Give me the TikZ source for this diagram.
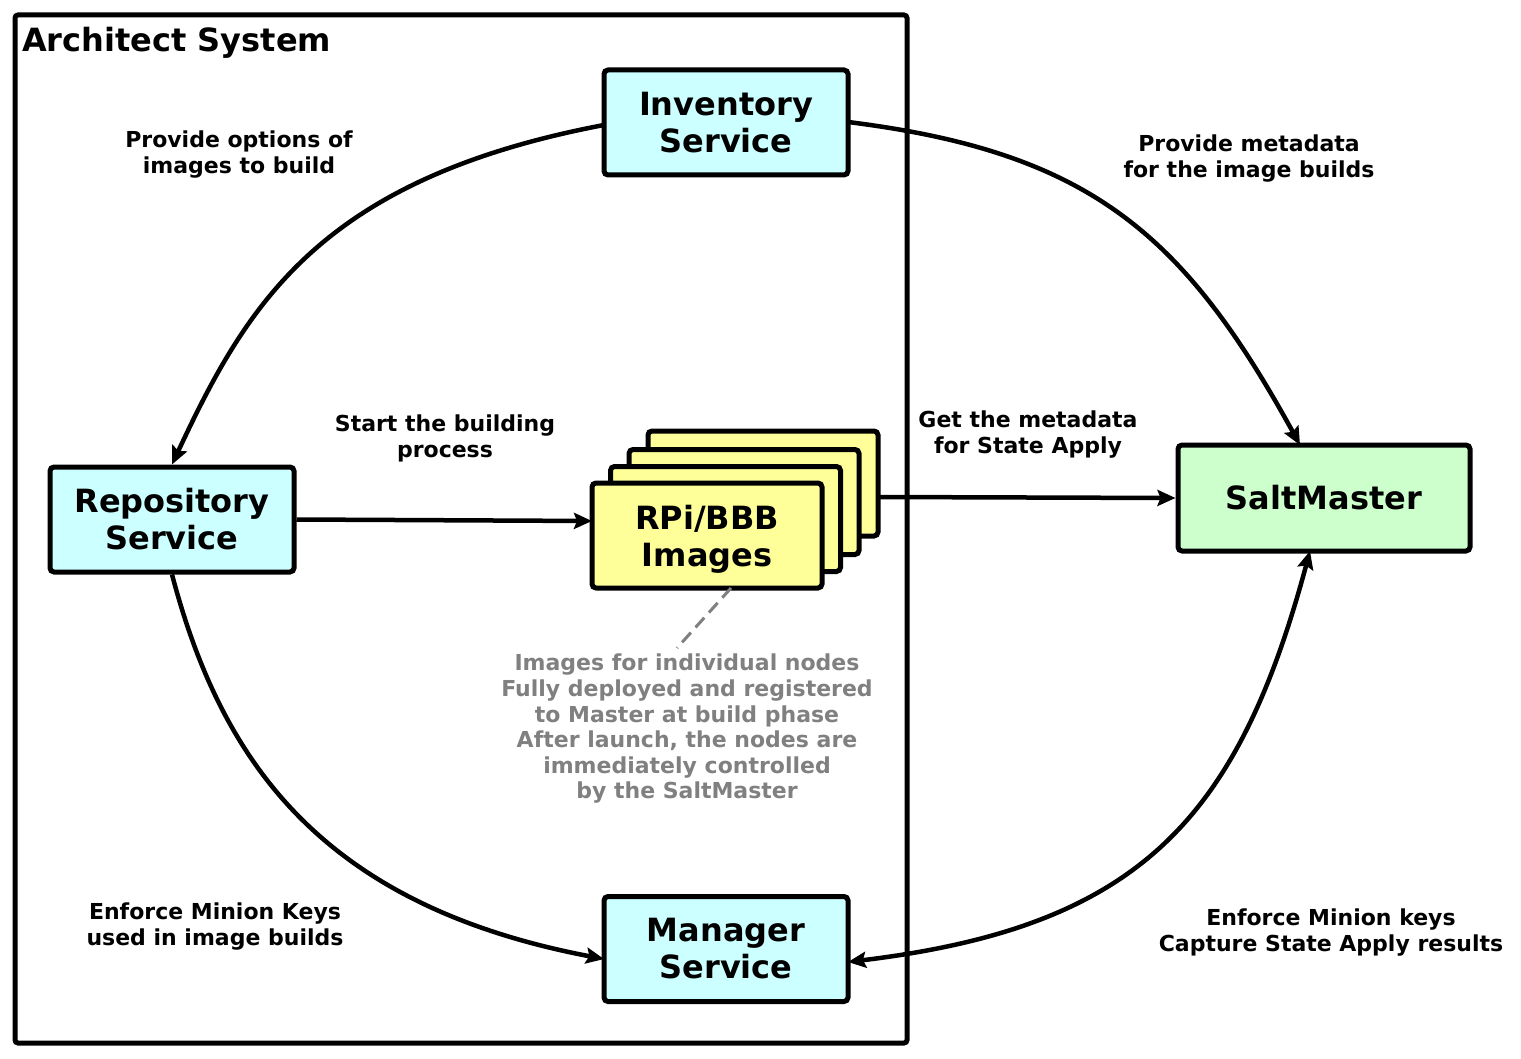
\documentclass[tikz,border=0pt]{standalone}
\usepackage{fontspec}
\setmainfont{DejaVu Sans}
\usetikzlibrary{arrows.meta}
\definecolor{svcfill}{HTML}{CCFFFF}
\definecolor{imgfill}{HTML}{FFFF99}
\definecolor{saltfill}{HTML}{CCFFCC}
\definecolor{notegray}{HTML}{808080}
\tikzset{
  boxfont/.style={font=\fontsize{32}{37}\selectfont\bfseries},
  box/.style={draw=black, line width=5pt, rounded corners=4pt, minimum width=#1, align=center, boxfont, inner sep=0pt},
  svc/.style={box=244pt, minimum height=105pt, fill=svcfill},
  imgbox/.style={box=230pt, minimum height=105pt, fill=imgfill},
  saltbox/.style={box=292pt, minimum height=106pt, fill=saltfill},
  lbl/.style={align=center, font=\fontsize{22}{26}\selectfont\bfseries, inner sep=0pt},
  note/.style={align=center, font=\fontsize{22}{25.6}\selectfont\bfseries, text=notegray, inner sep=0pt},
  conn/.style={line width=4.5pt, -{Stealth[length=18pt,width=16pt,inset=3pt]}},
  biconn/.style={line width=4.5pt, {Stealth[length=18pt,width=16pt,inset=3pt]}-{Stealth[length=18pt,width=16pt,inset=3pt]}},
  frame/.style={draw=black, line width=5pt, rounded corners=3pt}
}
\begin{document}
\begin{tikzpicture}[x=1pt,y=-1pt]
\useasboundingbox (0,0) rectangle (1521,1059);
\fill[white] (0,0) rectangle (1521,1059);
\draw[frame] (15,15) rectangle (907,1043);
\node[anchor=base west, boxfont, inner sep=0pt] (title) at (22,52) {Architect System};

\node[svc] (inv) at (726,122.5) {Inventory\\Service};
\node[svc] (repo) at (172,519.5) {Repository\\Service};
\node[svc] (mgr) at (726,949) {Manager\\Service};
\node[saltbox] (salt) at (1324,498) {SaltMaster};

\node[imgbox] (img4) at (763,483.5) {};
\node[imgbox] (img3) at (744,502) {};
\node[imgbox] (img2) at (725.5,519) {};
\node[imgbox] (img1) at (707,535.5) {};
\node[boxfont, align=center, inner sep=0pt] (img1t) at ([yshift=-4pt]img1.center) {RPi/BBB\\Images};

\coordinate (saltN) at (1300,445);
\coordinate (saltS) at (1310,551);
\coordinate (imgIn) at (592,521);
\coordinate (imgOut) at (878,497);
\coordinate (mgrW) at (604,959);
\coordinate (mgrE) at (848,962);
\coordinate (invW) at (604,125);
\coordinate (invE) at (848,122);

\draw[conn] (invW) .. controls (320,179) and (247,304) .. (repo.north);
\draw[conn] (invE) .. controls (1088,152) and (1183,232) .. (saltN);
\draw[conn] (repo.east) -- (imgIn);
\draw[conn] (imgOut) -- (salt.west);
\draw[conn] (repo.south) .. controls (221,760) and (320,905) .. (mgrW);
\draw[biconn] (mgrE) .. controls (1137,927) and (1237,822) .. (saltS);

\node[lbl] (l1) at (239,155) {Provide options of\\images to build};
\node[lbl] (l2) at (1249,159) {Provide metadata\\for the image builds};
\node[lbl] (l3) at (445,438) {Start the building\\process};
\node[lbl] (l4) at (1028,435) {Get the metadata\\for State Apply};
\node[lbl] (l5) at (215,927) {Enforce Minion Keys\\used in image builds};
\node[lbl] (l6) at (1331,933) {Enforce Minion keys\\Capture State Apply results};

\node[note, anchor=north] (nt) at (687,654) {Images for individual nodes\\Fully deployed and registered\\to Master at build phase\\After launch, the nodes are\\immediately controlled\\by the SaltMaster};
\coordinate (imgB) at (731,588);
\coordinate (ntop) at (677,648);
\draw[notegray, line width=3pt, dash pattern=on 13pt off 7pt] (imgB) -- (ntop);
\end{tikzpicture}
\end{document}
